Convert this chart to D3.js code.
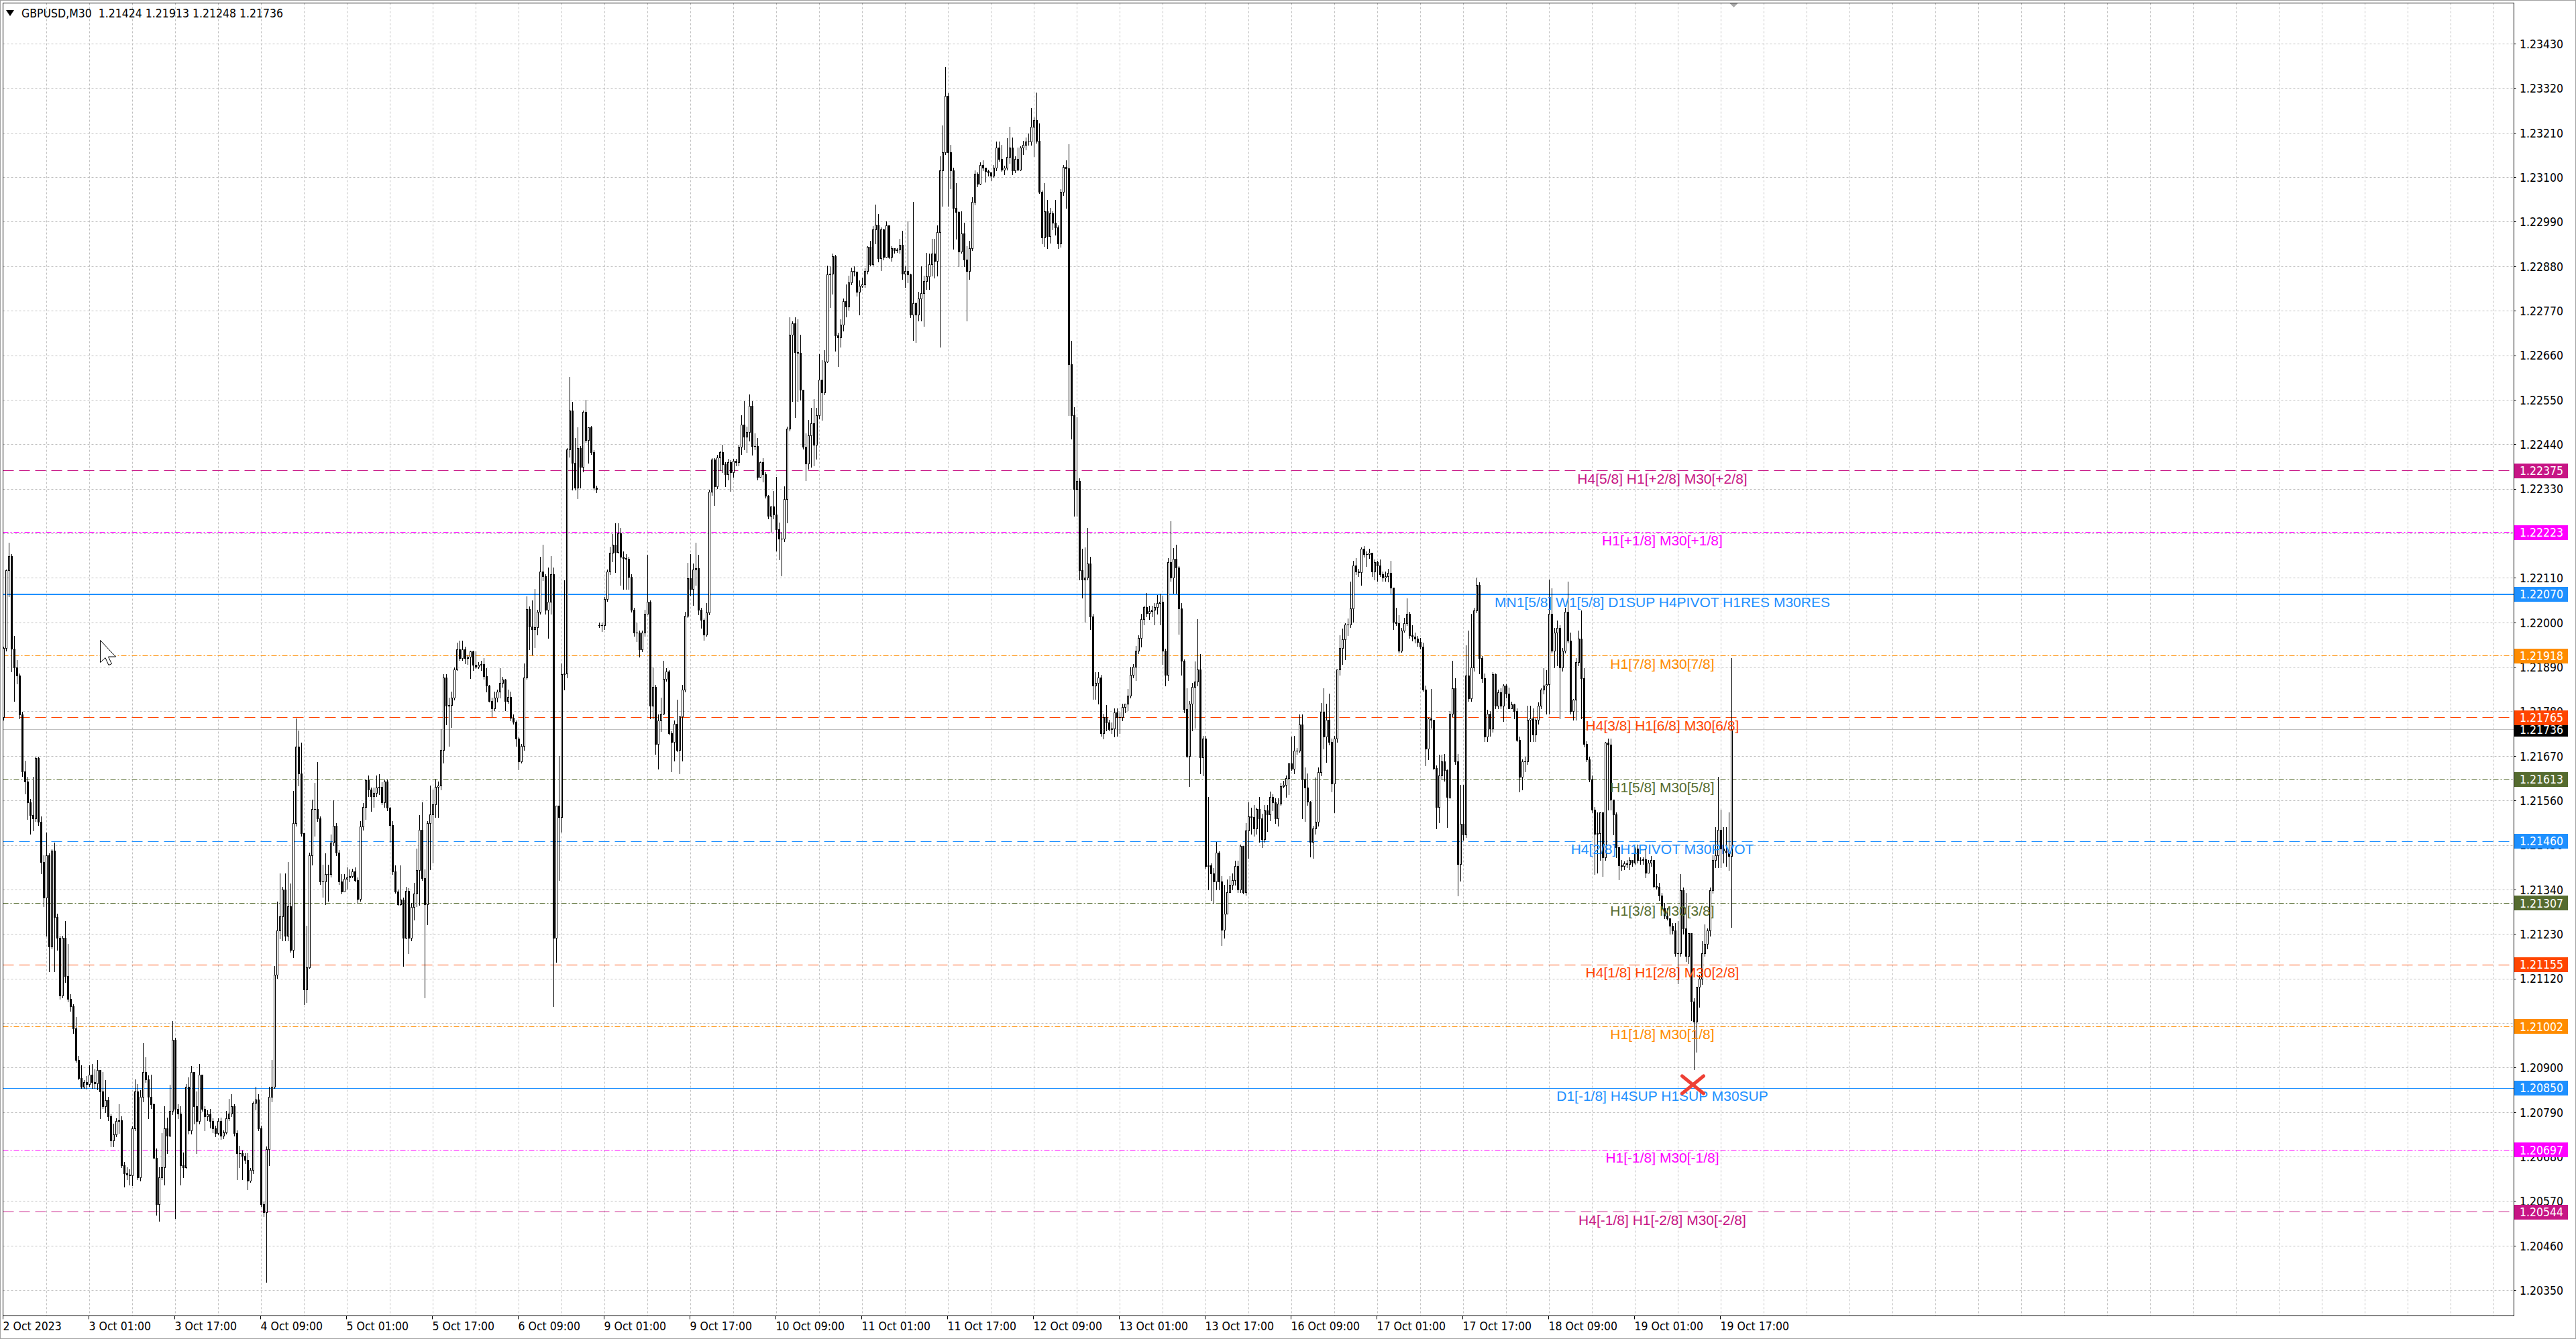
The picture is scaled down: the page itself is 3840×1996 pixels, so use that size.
<!DOCTYPE html>
<html>
<head>
<meta charset="utf-8">
<script src="https://cdn.jsdelivr.net/npm/d3@7"></script>
<style>
html, body { margin: 0; padding: 0; background: #fff; overflow: hidden; }
svg { display: block; }
.ax { font-family: "DejaVu Sans Condensed", "DejaVu Sans", sans-serif; font-stretch: condensed; font-size: 17.5px; }
.lvl { font-family: "Liberation Sans", Arial, sans-serif; font-size: 21px; }
</style>
</head>
<body>
<div id="chart"></div>
<script>
// GBPUSD M30 bars, values in points above 1.20000, each bar [high, low, close]
// open = previous close unless listed in openAt
let oct02 = [[1940,1760,1938],[2132,1930,2129],[2197,2065,2164],[2170,1880,1935],[1968,1806,1890],[1908,1850,1870],[1874,1763,1773],[1780,1620,1633],[1659,1577,1607],[1619,1514,1556],[1565,1479,1525],[1619,1486,1517],[1669,1510,1666],[1669,1500,1508],[1522,1381,1409],[1426,1299,1320],[1482,1227,1426],[1430,1139,1199],[1440,1194,1436],[1456,1139,1273],[1281,1191,1221],[1227,1070,1079],[1227,1073,1221],[1263,1112,1127],[1207,1064,1070],[1082,1040,1052],[1058,986,998],[1026,914,920],[930,871,875],[907,850,853]];
let oct03 = [[870,850,865],[880,848,860],[907,855,883],[910,850,865],[896,850,862],[919,847,895],[895,775,841],[890,800,805],[870,790,820],[828,770,780],[785,705,720],[762,705,735],[775,730,769],[811,739,770],[780,655,660],[668,606,640],[655,624,637],[650,612,635],[755,610,751],[871,745,841],[860,625,630],[845,622,829],[961,817,889],[926,865,871],[882,775,829],[883,800,811],[812,678,678],[701,536,564],[654,522,630],[739,624,654],[805,612,751],[777,690,733],[859,730,793],[1016,786,970],[975,528,799],[811,775,787],[805,612,660],[691,630,654],[860,652,853],[877,738,745],[905,738,889],[889,763,805],[841,690,769],[910,762,883],[877,793,799],[805,745,780],[795,770,785],[799,752,769]];
let oct04 = [[775,740,750],[757,730,739],[776,735,768],[777,724,733],[745,725,740],[793,738,775],[823,770,787],[835,781,805],[811,733,739],[745,624,690],[708,655,690],[696,624,682],[690,665,672],[690,600,621],[652,618,648],[817,640,813],[853,797,822],[835,745,751],[757,558,564],[570,534,543],[705,371,700],[853,660,829],[920,817,853],[1151,850,1130],[1311,1122,1239],[1381,1220,1275],[1347,1215,1341],[1380,1215,1227],[1408,1215,1300],[1355,1187,1191],[1585,1173,1504],[1763,1498,1694],[1733,1597,1628],[1703,1474,1480],[1480,1058,1094],[1251,1062,1149],[1432,1146,1426],[1562,1402,1540],[1604,1474,1540],[1655,1510,1516],[1522,1354,1360],[1402,1323,1360],[1430,1305,1378],[1402,1312,1378],[1477,1372,1456],[1561,1450,1498],[1504,1426,1432],[1438,1354,1360]];
let oct05 = [[1378,1330,1335],[1378,1354,1367],[1395,1342,1370],[1390,1360,1374],[1392,1370,1385],[1395,1360,1364],[1370,1307,1317],[1509,1312,1496],[1555,1488,1545],[1613,1514,1611],[1623,1571,1587],[1592,1535,1571],[1592,1545,1579],[1623,1571,1592],[1626,1576,1595],[1606,1551,1556],[1613,1545,1608],[1613,1537,1543],[1545,1458,1499],[1509,1379,1385],[1400,1333,1336],[1340,1302,1305],[1400,1302,1315],[1320,1152,1222],[1348,1219,1338],[1344,1183,1222],[1307,1214,1297],[1358,1266,1330],[1441,1300,1388],[1525,1302,1488],[1556,1364,1369],[1390,1074,1305],[1509,1255,1504],[1597,1390,1527],[1587,1407,1551],[1613,1520,1595],[1608,1520,1597],[1737,1587,1685],[1872,1654,1864],[1872,1748,1794],[1815,1696,1796],[1830,1742,1815],[1889,1810,1885],[1951,1882,1934],[1955,1908,1913],[1955,1908,1934],[1941,1900,1913],[1921,1898,1916]];
let oct06 = [[1931,1862,1929],[1931,1882,1896],[1929,1887,1891],[1903,1887,1896],[1906,1882,1898],[1913,1861,1867],[1887,1830,1844],[1846,1804,1806],[1815,1768,1788],[1830,1784,1815],[1835,1804,1830],[1887,1815,1851],[1866,1841,1859],[1861,1784,1806],[1835,1802,1817],[1830,1758,1765],[1773,1750,1755],[1758,1696,1714],[1717,1637,1657],[1701,1654,1696],[1900,1685,1864],[2065,1861,2034],[2040,1934,1991],[2055,1920,1983],[2084,1939,1988],[2032,1970,2027],[2162,2022,2126],[2193,2105,2115],[2120,2022,2032],[2136,1962,2051],[2165,2022,2120],[2136,1053,1222],[1548,1162,1548],[1670,1364,1520],[1900,1483,1872],[2105,1835,1875],[2431,1864,2428],[2607,2410,2524],[2545,2328,2395],[2457,2328,2333],[2483,2307,2431],[2436,2333,2385],[2524,2374,2521],[2550,2446,2452],[2483,2395,2483],[2486,2416,2421],[2426,2328,2333],[2338,2322,2330]];
let oct09 = [[2001,1989,1994],[2001,1979,1994],[2063,1983,2058],[2131,2053,2126],[2188,2120,2172],[2219,2151,2193],[2245,2125,2175],[2245,2172,2221],[2234,2094,2162],[2176,2084,2160],[2169,2084,2158],[2162,2084,2113],[2120,2027,2032],[2037,1968,1975],[2001,1954,1975],[1980,1916,1934],[1980,1929,1975],[2032,1968,2022],[2167,2022,2051],[2055,1763,1794],[1889,1763,1841],[1846,1675,1701],[1773,1639,1758],[1815,1732,1775],[1906,1773,1861],[1887,1856,1879],[1882,1724,1727],[1732,1633,1706],[1758,1659,1750],[1810,1682,1685],[1768,1628,1768],[1846,1659,1835],[2027,1830,2017],[2148,2014,2110],[2169,2069,2084],[2146,2043,2131],[2198,2094,2134],[2168,2020,2032],[2037,1987,2007],[2010,1958,1970],[2049,1968,2026],[2329,2020,2324],[2407,2315,2403],[2407,2290,2337],[2414,2332,2408],[2424,2377,2421],[2439,2371,2392],[2396,2337,2366]];
let oct10 = [[2405,2354,2396],[2402,2326,2371],[2405,2360,2400],[2405,2388,2396],[2439,2388,2434],[2513,2417,2490],[2547,2428,2460],[2484,2422,2471],[2564,2450,2535],[2547,2414,2437],[2468,2428,2437],[2456,2354,2360],[2399,2360,2396],[2407,2349,2366],[2371,2309,2313],[2315,2258,2264],[2287,2224,2287],[2326,2258,2267],[2360,2177,2230],[2247,2156,2207],[2224,2117,2207],[2337,2201,2306],[2484,2247,2479],[2754,2475,2711],[2745,2547,2739],[2754,2507,2668],[2750,2547,2666],[2711,2550,2575],[2575,2430,2434],[2468,2351,2394],[2501,2380,2462],[2530,2385,2492],[2552,2388,2440],[2530,2405,2513],[2663,2505,2600],[2649,2501,2569],[2674,2564,2645],[2883,2643,2860],[2880,2779,2863],[2912,2812,2905],[2909,2671,2709],[2716,2634,2705],[2750,2682,2736],[2801,2722,2795],[2835,2756,2781],[2858,2773,2841],[2878,2835,2869],[2880,2858,2867]];
let oct11 = [[2841,2807,2818],[2846,2762,2833],[2852,2829,2835],[2875,2829,2869],[2931,2863,2928],[2943,2883,2886],[2980,2883,2971],[3033,2937,2984],[3010,2892,2901],[2976,2871,2971],[2973,2897,2903],[2991,2903,2982],[2960,2901,2903],[2931,2894,2926],[2926,2914,2920],[2926,2916,2922],[2948,2914,2934],[2969,2849,2863],[2880,2829,2869],[2991,2841,2860],[2863,2754,2762],[3039,2699,2790],[2791,2694,2762],[2818,2747,2801],[2880,2747,2815],[2858,2733,2844],[2914,2824,2855],[2912,2824,2886],[2948,2858,2912],[2948,2852,2894],[2982,2858,2965],[3152,2682,3118],[3229,3030,3163],[3372,3157,3301],[3308,3030,3163],[3180,3072,3118],[3124,2923,3025],[3086,2948,3014],[3016,2880,2917],[3016,2914,2962],[2988,2880,2897],[2931,2747,2869],[2943,2849,2926],[3052,2920,3039],[3118,3033,3109],[3112,3078,3084],[3138,3082,3131],[3143,3118,3124]];
let oct12 = [[3124,3090,3116],[3120,3104,3112],[3112,3093,3104],[3131,3101,3124],[3188,3118,3174],[3188,3140,3146],[3180,3116,3120],[3129,3107,3124],[3197,3120,3150],[3225,3135,3174],[3199,3107,3118],[3152,3112,3146],[3174,3118,3120],[3177,3118,3174],[3191,3157,3180],[3199,3169,3188],[3208,3180,3188],[3271,3180,3225],[3248,3152,3242],[3310,3186,3191],[3233,3061,3064],[3067,2937,2951],[3086,2931,3016],[3044,2926,2955],[3025,2939,3012],[3016,2972,2989],[3044,2959,2976],[2981,2926,2937],[3071,2929,3064],[3130,3057,3126],[3143,3025,3123],[3182,2513,2638],[2697,2454,2513],[2533,2264,2330],[2507,2264,2350],[2356,2107,2129],[2182,2061,2107],[2186,2002,2111],[2234,2107,2146],[2163,1983,2015],[2022,1812,1845],[1877,1812,1852],[1877,1799,1864],[1871,1720,1727],[1775,1714,1766],[1796,1734,1753],[1760,1733,1736],[1753,1727,1738]];
let oct13 = [[1789,1718,1779],[1789,1720,1766],[1779,1727,1766],[1799,1759,1792],[1799,1779,1799],[1836,1783,1819],[1891,1815,1871],[1897,1864,1891],[1943,1858,1930],[1969,1924,1963],[2022,1940,2009],[2042,1996,2038],[2074,2015,2024],[2042,2009,2028],[2042,2015,2032],[2048,1996,2038],[2068,2022,2048],[2071,1996,2051],[2067,1897,1930],[1936,1845,1871],[2160,1858,2150],[2251,2103,2111],[2185,2074,2158],[2192,2074,2137],[2140,1972,2035],[2048,1871,1906],[1910,1779,1786],[1838,1668,1671],[1806,1596,1799],[1852,1733,1841],[1904,1740,1854],[2009,1845,1884],[1923,1628,1668],[1720,1622,1714],[1720,1393,1399],[1570,1340,1401],[1406,1314,1380],[1393,1307,1360],[1458,1340,1432],[1435,1340,1360],[1373,1203,1241],[1353,1222,1281],[1366,1307,1334],[1373,1347,1353],[1380,1340,1364],[1412,1353,1399],[1412,1334,1340],[1452,1334,1448]];
let oct16 = [[1448,1330,1334],[1504,1327,1487],[1556,1419,1521],[1543,1478,1520],[1550,1474,1491],[1543,1478,1539],[1570,1458,1517],[1528,1445,1465],[1550,1458,1537],[1550,1485,1527],[1582,1511,1569],[1576,1537,1556],[1566,1504,1517],[1566,1498,1553],[1605,1550,1596],[1609,1592,1599],[1622,1570,1616],[1652,1576,1652],[1718,1635,1639],[1720,1628,1684],[1691,1675,1684],[1773,1681,1749],[1773,1517,1613],[1642,1510,1592],[1628,1550,1557],[1560,1422,1458],[1498,1419,1491],[1618,1478,1508],[1642,1498,1631],[1802,1622,1780],[1838,1688,1718],[1799,1655,1760],[1825,1698,1705],[1713,1582,1602],[1720,1531,1714],[1884,1705,1884],[1969,1871,1937],[1986,1897,1959],[1998,1910,1996],[2011,1969,1996],[2101,1989,2035],[2153,2002,2142],[2160,2120,2127],[2133,2114,2124],[2186,2094,2182],[2190,2163,2169],[2176,2140,2169],[2182,2160,2173]];
let oct17 = [[2166,2114,2127],[2156,2107,2150],[2153,2103,2142],[2156,2114,2120],[2127,2103,2111],[2127,2103,2114],[2133,2101,2123],[2153,2074,2087],[2087,1983,2002],[2037,1994,1999],[2018,1925,1931],[1987,1927,1981],[2012,1977,1999],[2060,1994,2022],[2027,1962,1969],[1993,1956,1965],[1975,1950,1960],[1968,1942,1952],[1962,1935,1940],[1950,1831,1835],[1844,1648,1688],[1765,1663,1763],[1837,1740,1760],[1760,1638,1640],[1648,1491,1544],[1673,1507,1623],[1673,1613,1657],[1675,1610,1636],[1637,1495,1569],[1781,1566,1775],[1906,1769,1838],[1863,1650,1657],[1675,1326,1403],[1600,1363,1503],[1600,1463,1476],[1944,1470,1869],[1981,1806,1813],[2022,1806,1890],[2037,1881,2031],[2112,2025,2093],[2100,1875,1912],[1918,1853,1862],[1875,1707,1719],[1785,1707,1775],[1782,1720,1738],[1877,1731,1872],[1875,1788,1794],[1835,1788,1828]];
let oct18 = [[1838,1788,1794],[1848,1757,1844],[1848,1815,1825],[1840,1788,1788],[1804,1788,1798],[1800,1763,1782],[1788,1707,1710],[1718,1582,1619],[1663,1588,1657],[1669,1632,1658],[1794,1651,1760],[1794,1707,1763],[1788,1707,1723],[1763,1707,1760],[1803,1750,1794],[1838,1788,1835],[1887,1825,1844],[1882,1775,1848],[2106,1775,2022],[2085,1925,1931],[1987,1890,1975],[2006,1894,1987],[1993,1763,1890],[1937,1881,1931],[2037,1925,2027],[2102,1950,1956],[1975,1775,1782],[1812,1760,1809],[1912,1760,1902],[1981,1894,1960],[2031,1763,1863],[1887,1694,1700],[1707,1657,1663],[1669,1607,1613],[1623,1532,1538],[1544,1378,1478],[1532,1382,1480],[1532,1413,1532],[1532,1373,1420],[1706,1413,1703],[1713,1538,1698],[1713,1538,1563],[1563,1476,1526],[1532,1420,1445],[1432,1366,1401],[1413,1389,1398],[1410,1390,1405],[1413,1395,1403]];
let oct19 = [[1420,1391,1414],[1413,1398,1407],[1445,1403,1441],[1451,1407,1413],[1420,1403,1413],[1420,1403,1416],[1441,1370,1382],[1413,1398,1407],[1423,1398,1414],[1413,1345,1349],[1378,1342,1348],[1357,1314,1326],[1332,1291,1295],[1307,1270,1276],[1295,1266,1270],[1270,1232,1251],[1257,1232,1239],[1257,1177,1183],[1263,1108,1183],[1379,1177,1339],[1345,1232,1245],[1332,1164,1176],[1233,1158,1233],[1233,1017,1064],[1072,896,1014],[1100,940,1100],[1130,1050,1120],[1213,1107,1183],[1254,1176,1207],[1245,1195,1239],[1345,1227,1339],[1426,1333,1414],[1494,1395,1426],[1619,1395,1488],[1538,1395,1442],[1494,1407,1437],[1494,1398,1432],[1532,1388,1424],[1913,1248,1736]];

// opens that do not equal the previous close (first bar, Monday gap)
let openAt = new Map([[0, 1766], [222, 1994]]);

// price axis ticks
let priceTicks = [1.23430,1.23320,1.23210,1.23100,1.22990,1.22880,1.22770,1.22660,1.22550,1.22440,1.22330,1.22220,1.22110,1.22000,1.21890,1.21780,1.21670,1.21560,1.21450,1.21340,1.21230,1.21120,1.21010,1.20900,1.20790,1.20680,1.20570,1.20460,1.20350];

// time axis labels, one every 32 bars
let timeLabels = ["2 Oct 2023","3 Oct 01:00","3 Oct 17:00","4 Oct 09:00","5 Oct 01:00","5 Oct 17:00","6 Oct 09:00","9 Oct 01:00","9 Oct 17:00","10 Oct 09:00","11 Oct 01:00","11 Oct 17:00","12 Oct 09:00","13 Oct 01:00","13 Oct 17:00","16 Oct 09:00","17 Oct 01:00","17 Oct 17:00","18 Oct 09:00","19 Oct 01:00","19 Oct 17:00"];

// Murrey levels drawn on the chart
let levelPrices = [1.22375,1.22223,1.22070,1.21918,1.21765,1.21613,1.21460,1.21307,1.21155,1.21002,1.20850,1.20697,1.20544];
let levelNames = ["H4[5/8] H1[+2/8] M30[+2/8]","H1[+1/8] M30[+1/8]","MN1[5/8] W1[5/8] D1SUP H4PIVOT H1RES M30RES","H1[7/8] M30[7/8]","H4[3/8] H1[6/8] M30[6/8]","H1[5/8] M30[5/8]","H4[2/8] H1PIVOT M30PIVOT","H1[3/8] M30[3/8]","H4[1/8] H1[2/8] M30[2/8]","H1[1/8] M30[1/8]","D1[-1/8] H4SUP H1SUP M30SUP","H1[-1/8] M30[-1/8]","H4[-1/8] H1[-2/8] M30[-2/8]"];
let levelColors = ["#C71585","#FF00FF","#1E90FF","#FF8C00","#FF4500","#556B2F","#1E90FF","#556B2F","#FF4500","#FF8C00","#1E90FF","#FF00FF","#C71585"];
let levelStyles = ["dash","dashdot","thick","dashdot","dash","dashdot","dash","dashdot","dash","dashdot","solid","dashdot","dash"];

let symbolText = "GBPUSD,M30";
let ohlcText = ["1.21424","1.21913","1.21248","1.21736"];
let lastPrice = 1.21736;

let svgWidth = 3840;
let svgHeight = 1996;
let frame = { left: 4.5, top: 4.5, right: 3747.5, bottom: 1961.5 };

let svg = d3.select("#chart")
    .append("svg")
    .attr("width", svgWidth)
    .attr("height", svgHeight);

svg.append("rect")
    .attr("width", svgWidth).attr("height", svgHeight)
    .attr("fill", "#fff");

// build the bar list
let bars = [];
let prevClose = null;
[oct02, oct03, oct04, oct05, oct06, oct09, oct10, oct11, oct12, oct13, oct16, oct17, oct18, oct19]
    .flat()
    .forEach((b, i) => {
        let o = openAt.has(i) ? openAt.get(i) : prevClose;
        bars.push({ i: i, o: 1.2 + o / 1e5, h: 1.2 + b[0] / 1e5, l: 1.2 + b[1] / 1e5, c: 1.2 + b[2] / 1e5 });
        prevClose = b[2];
    });

let xScale = d3.scaleLinear()
    .domain([0, bars.length - 1])
    .range([5.5, 5.5 + 4 * (bars.length - 1)]);

let yScale = d3.scaleLinear()
    .domain([1.2, 1.235])
    .range([2134.82, 23.27]);

let crisp = v => Math.floor(v) + 0.5;

// grid
let grid = svg.append("g")
    .attr("stroke", "#c0c0c0")
    .attr("stroke-width", 1)
    .attr("stroke-dasharray", "3,3");

grid.selectAll("line.h")
    .data(priceTicks)
    .join("line")
    .attr("class", "h")
    .attr("x1", frame.left).attr("x2", frame.right)
    .attr("y1", d => crisp(yScale(d))).attr("y2", d => crisp(yScale(d)));

let vGrid = d3.range(16, 940, 16).filter(k => xScale(k) < frame.right - 2);
grid.selectAll("line.v")
    .data(vGrid)
    .join("line")
    .attr("class", "v")
    .attr("x1", d => xScale(d)).attr("x2", d => xScale(d))
    .attr("y1", frame.top).attr("y2", frame.bottom);

// last price line
svg.append("line")
    .attr("x1", frame.left).attr("x2", frame.right)
    .attr("y1", crisp(yScale(lastPrice))).attr("y2", crisp(yScale(lastPrice)))
    .attr("stroke", "#c0c0c0").attr("stroke-width", 1);

// level lines
let dashFor = { dash: "16,8", dashdot: "8,3,2,3", solid: null, thick: null };
svg.append("g").selectAll("line")
    .data(levelPrices)
    .join("line")
    .attr("x1", frame.left).attr("x2", frame.right)
    .attr("y1", (d, i) => levelStyles[i] === "thick" ? Math.round(yScale(d)) : crisp(yScale(d)))
    .attr("y2", (d, i) => levelStyles[i] === "thick" ? Math.round(yScale(d)) : crisp(yScale(d)))
    .attr("stroke", (d, i) => levelColors[i])
    .attr("stroke-width", (d, i) => levelStyles[i] === "thick" ? 2 : 1)
    .attr("stroke-dasharray", (d, i) => dashFor[levelStyles[i]]);

// candles
let candle = svg.append("g")
    .selectAll("g")
    .data(bars)
    .join("g");

candle.append("line")
    .attr("x1", d => xScale(d.i)).attr("x2", d => xScale(d.i))
    .attr("y1", d => Math.round(yScale(Math.max(d.h, d.o, d.c))))
    .attr("y2", d => Math.round(yScale(Math.min(d.l, d.o, d.c))) + 1)
    .attr("stroke", "#000").attr("stroke-width", 1);

candle.each(function(d) {
    let top = Math.round(yScale(Math.max(d.o, d.c)));
    let bot = Math.round(yScale(Math.min(d.o, d.c)));
    let cx = xScale(d.i);
    if (bot - top < 1) {
        d3.select(this).append("line")
            .attr("x1", cx - 1.5).attr("x2", cx + 1.5)
            .attr("y1", top + 0.5).attr("y2", top + 0.5)
            .attr("stroke", "#000");
    } else {
        d3.select(this).append("rect")
            .attr("x", cx - 1).attr("y", top + 0.5)
            .attr("width", 2).attr("height", bot - top)
            .attr("fill", d.c >= d.o ? "#fff" : "#000")
            .attr("stroke", "#000").attr("stroke-width", 1);
    }
});

// level labels
svg.append("g").selectAll("text")
    .data(levelPrices)
    .join("text")
    .attr("class", "lvl")
    .attr("x", 2478)
    .attr("y", d => yScale(d) + 19)
    .attr("text-anchor", "middle")
    .attr("fill", (d, i) => levelColors[i])
    .text((d, i) => levelNames[i]);

// deal marker
let mark = svg.append("g")
    .attr("transform", `translate(${xScale(629.5)}, 1617)`)
    .attr("stroke", "#EE4035").attr("stroke-width", 5).attr("stroke-linecap", "round");
mark.append("line").attr("x1", -16).attr("y1", -13).attr("x2", 16).attr("y2", 13);
mark.append("line").attr("x1", -16).attr("y1", 13).attr("x2", 16).attr("y2", -13);

// mouse pointer
svg.append("path")
    .attr("d", "M149.5,954.5 l0,33 l7.5,-7 l5,11 l4.5,-2 l-5,-10.5 l11,0 z")
    .attr("fill", "#fff").attr("stroke", "#000").attr("stroke-width", 1);

// frame
svg.append("rect")
    .attr("x", frame.left).attr("y", frame.top)
    .attr("width", frame.right - frame.left).attr("height", frame.bottom - frame.top)
    .attr("fill", "none").attr("stroke", "#000").attr("stroke-width", 1);

// chart shift marker
svg.append("path")
    .attr("d", `M${xScale(644) - 3},5 l12,0 l-6,6 z`)
    .attr("fill", "#a8a8a8");

// price axis
let axisG = svg.append("g").attr("class", "ax");

axisG.selectAll("line")
    .data(priceTicks)
    .join("line")
    .attr("x1", frame.right).attr("x2", frame.right + 3)
    .attr("y1", d => crisp(yScale(d))).attr("y2", d => crisp(yScale(d)))
    .attr("stroke", "#000");

axisG.selectAll("text")
    .data(priceTicks)
    .join("text")
    .attr("x", 3756)
    .attr("y", d => yScale(d) + 6.3)
    .attr("fill", "#000")
    .text(d => d.toFixed(5));

// last price box, then level boxes on top
let boxes = [{ p: lastPrice, c: "#000" }].concat(levelPrices.map((p, i) => ({ p: p, c: levelColors[i] })));
let boxG = svg.append("g").attr("class", "ax")
    .selectAll("g")
    .data(boxes)
    .join("g");
boxG.append("rect")
    .attr("x", 3748).attr("y", d => Math.round(yScale(d.p)) - 11)
    .attr("width", 80).attr("height", 22)
    .attr("fill", d => d.c);
boxG.append("text")
    .attr("x", 3756).attr("y", d => yScale(d.p) + 6.3)
    .attr("fill", "#fff")
    .text(d => d.p.toFixed(5));

// time axis
let timeIdx = timeLabels.map((t, k) => k * 32);
let tG = svg.append("g").attr("class", "ax");
tG.selectAll("line")
    .data(timeIdx)
    .join("line")
    .attr("x1", d => xScale(d) - 1).attr("x2", d => xScale(d) - 1)
    .attr("y1", frame.bottom).attr("y2", frame.bottom + 5)
    .attr("stroke", "#000");
tG.selectAll("text")
    .data(timeIdx)
    .join("text")
    .attr("x", d => xScale(d) - 1)
    .attr("y", 1983)
    .attr("fill", "#000")
    .text((d, k) => timeLabels[k]);

// header
svg.append("path").attr("d", "M9,15 l12,0 l-6,9 z").attr("fill", "#000");
svg.append("text")
    .attr("class", "ax")
    .attr("x", 32).attr("y", 26)
    .attr("fill", "#000")
    .style("white-space", "pre")
    .text(symbolText + "  " + ohlcText.join(" "));

// window border
svg.append("rect")
    .attr("x", 0.5).attr("y", 0.5)
    .attr("width", svgWidth - 1).attr("height", svgHeight - 1)
    .attr("fill", "none").attr("stroke", "#a0a0a0").attr("stroke-width", 1);
</script>
</body>
</html>
